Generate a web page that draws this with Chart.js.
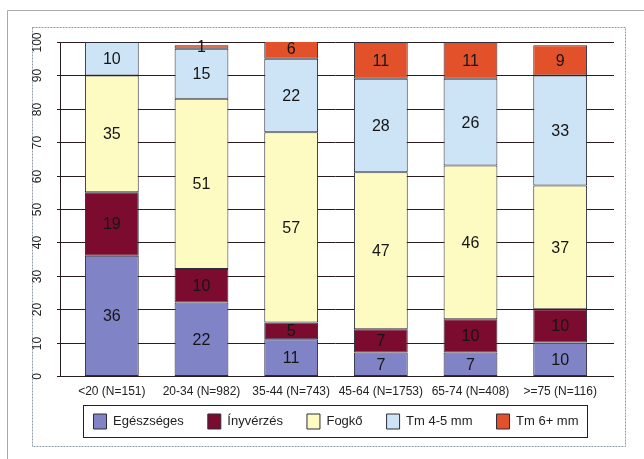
<!DOCTYPE html>
<html>
<head>
<meta charset="utf-8">
<script src="https://cdn.jsdelivr.net/npm/chart.js@4.4.1/dist/chart.umd.min.js"></script>
<style>
  html, body { margin: 0; padding: 0; background: #fff; }
  canvas { display: block; }
</style>
</head>
<body>
<canvas id="chart" width="644" height="459"></canvas>
<script>
const categories = ['<20 (N=151)', '20-34 (N=982)', '35-44 (N=743)', '45-64 (N=1753)', '65-74 (N=408)', '>=75 (N=116)'];
const healthy = [36, 22, 11, 7, 7, 10];
const bleeding = [19, 10, 5, 7, 10, 10];
const calculus = [35, 51, 57, 47, 46, 37];
const pocket45 = [10, 15, 22, 28, 26, 33];
const pocket6 = [0, 1, 6, 11, 11, 9];
const yTicks = [0, 10, 20, 30, 40, 50, 60, 70, 80, 90, 100];

const FONT = '"Liberation Sans", Arial, sans-serif';

// white page, grey outer frame and the dotted chart box
const framePlugin = {
  id: 'frame',
  beforeDraw(chart) {
    const ctx = chart.ctx;
    ctx.save();
    ctx.fillStyle = '#fff';
    ctx.fillRect(0, 0, chart.width, chart.height);
    ctx.strokeStyle = '#a9a9a9';
    ctx.lineWidth = 1;
    ctx.beginPath();
    ctx.moveTo(7.5, chart.height);
    ctx.lineTo(7.5, 10.5);
    ctx.lineTo(chart.width, 10.5);
    ctx.stroke();
    ctx.strokeStyle = '#8f9aa6';
    ctx.setLineDash([2, 1]);
    ctx.strokeRect(32.5, 27.5, 593, 419);
    ctx.restore();
  }
};

// gridlines reach a bit past the bars like in the original, y labels are turned
const gridPlugin = {
  id: 'grid',
  beforeDatasetsDraw(chart) {
    const ctx = chart.ctx;
    const y = chart.scales.y;
    ctx.save();
    ctx.strokeStyle = '#2a1c1c';
    ctx.lineWidth = 1;
    ctx.fillStyle = '#222';
    ctx.font = '12px ' + FONT;
    ctx.textAlign = 'center';
    ctx.textBaseline = 'middle';
    yTicks.forEach(v => {
      const py = Math.round(y.getPixelForValue(v)) + 0.5;
      ctx.beginPath();
      ctx.moveTo(57, py);
      ctx.lineTo(614, py);
      ctx.stroke();
      ctx.save();
      ctx.translate(38, py);
      ctx.rotate(-Math.PI / 2);
      ctx.fillText(String(v), 0, 0);
      ctx.restore();
    });
    ctx.beginPath();
    ctx.moveTo(60.5, Math.round(y.getPixelForValue(100)));
    ctx.lineTo(60.5, Math.round(y.getPixelForValue(0)) + 1);
    ctx.stroke();
    ctx.restore();
  }
};

// numbers inside the bar segments
const valuePlugin = {
  id: 'values',
  afterDatasetsDraw(chart) {
    const ctx = chart.ctx;
    ctx.save();
    ctx.fillStyle = '#151515';
    ctx.font = '16px ' + FONT;
    ctx.textAlign = 'center';
    ctx.textBaseline = 'middle';
    chart.data.datasets.forEach((ds, i) => {
      const meta = chart.getDatasetMeta(i);
      meta.data.forEach((bar, j) => {
        const v = ds.data[j];
        if (!v) return;
        ctx.fillText(String(v), bar.x, (bar.y + bar.base) / 2 + 1);
      });
    });
    ctx.restore();
  }
};

// legend sits a little higher than chart.js would put it, plus a box round it
const legendBoxPlugin = {
  id: 'legendBox',
  afterLayout(chart) {
    const lg = chart.legend;
    lg.top -= 12;
    lg.bottom -= 12;
  },
  afterDraw(chart) {
    const boxes = chart.legend.legendHitBoxes;
    if (!boxes || !boxes.length) return;
    const first = boxes[0];
    const last = boxes[boxes.length - 1];
    const ctx = chart.ctx;
    ctx.save();
    ctx.strokeStyle = '#222';
    ctx.lineWidth = 1;
    const left = Math.round(first.left - 11) + 0.5;
    const right = Math.round(last.left + last.width + 9) + 0.5;
    const top = Math.round(first.top - 9) + 0.5;
    const bottom = Math.round(first.top + first.height + 8) + 0.5;
    ctx.strokeRect(left, top, right - left, bottom - top);
    ctx.restore();
  }
};

const ctx = document.getElementById('chart').getContext('2d');
new Chart(ctx, {
  type: 'bar',
  data: {
    labels: categories,
    datasets: [
      { label: 'Egészséges', data: healthy, backgroundColor: '#8083c6' },
      { label: 'Ínyvérzés', data: bleeding, backgroundColor: '#7c0b30' },
      { label: 'Fogkő', data: calculus, backgroundColor: '#fdfbc2' },
      { label: 'Tm 4-5 mm', data: pocket45, backgroundColor: '#cce4f6' },
      { label: 'Tm 6+ mm', data: pocket6, backgroundColor: '#e3512b' }
    ].map(d => Object.assign(d, {
      borderColor: '#2c2c3a',
      borderWidth: 1,
      borderSkipped: false,
      barPercentage: 0.6,
      categoryPercentage: 1
    }))
  },
  options: {
    responsive: false,
    animation: false,
    devicePixelRatio: 1,
    layout: {
      padding: { left: 67, right: 39, top: 42, bottom: 8 }
    },
    plugins: {
      legend: {
        position: 'bottom',
        labels: {
          boxWidth: 13,
          boxHeight: 15,
          padding: 24,
          color: '#222',
          font: { family: FONT, size: 13 }
        }
      },
      tooltip: { enabled: false }
    },
    scales: {
      x: {
        stacked: true,
        grid: { display: false, drawTicks: false },
        border: { display: false },
        ticks: {
          padding: 8,
          color: '#222',
          maxRotation: 0,
          autoSkip: false,
          font: { family: FONT, size: 12 }
        },
        afterFit(scale) { scale.height = 26; }
      },
      y: {
        stacked: true,
        display: false,
        min: 0,
        max: 100
      }
    }
  },
  plugins: [framePlugin, gridPlugin, valuePlugin, legendBoxPlugin]
});
</script>
</body>
</html>
